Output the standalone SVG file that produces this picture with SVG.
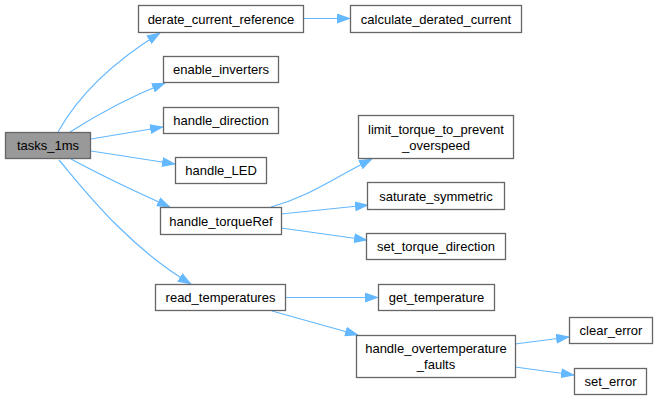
<svg xmlns="http://www.w3.org/2000/svg" width="657" height="400" viewBox="0 0 657 400">
<style>
.node rect{fill:#ffffff;stroke:#666666;stroke-width:1.3}
.node.root rect{fill:#999999}
.node text{font-family:"Liberation Sans",Arial,sans-serif;font-size:13px;fill:#000000;text-anchor:middle}
.edge{fill:none;stroke:#63b8ff;stroke-width:1.2;marker-end:url(#arrow)}
</style>
<defs>
<marker id="arrow" viewBox="0 0 14 10" markerWidth="14" markerHeight="10" refX="13" refY="5" orient="auto" markerUnits="userSpaceOnUse">
<path d="M0,0 L14,5 L0,10 z" fill="#63b8ff"/>
</marker>
</defs>
<rect width="657" height="400" fill="#ffffff"/>
<g id="connectors">
<path class="edge" d="M58,132 C73,105 100,70 160,33"/>
<path class="edge" d="M70,132 C92,118 122,100 165,83"/>
<path class="edge" d="M91,139 L163,127"/>
<path class="edge" d="M91,151 L175,164"/>
<path class="edge" d="M71,159 C95,172 125,187 170,207"/>
<path class="edge" d="M59,160 C78,182 125,245 191,284"/>
<path class="edge" d="M303,18.5 L350,18.5"/>
<path class="edge" d="M271,207 C310,196 330,180 372,159"/>
<path class="edge" d="M281,214 L368,205"/>
<path class="edge" d="M281,228 L367,240"/>
<path class="edge" d="M286,297.5 L378,297.5"/>
<path class="edge" d="M272,311 L358,335"/>
<path class="edge" d="M515,344 L569,337"/>
<path class="edge" d="M515,367 L574,375"/>
</g>
<g id="tasks_1ms" class="node root"><rect x="5.5" y="132.5" width="85" height="26"/><text x="48" y="150">tasks_1ms</text></g>
<g id="derate_current_reference" class="node"><rect x="138.5" y="5.5" width="165" height="27"/><text x="221" y="23.5">derate_current_reference</text></g>
<g id="calculate_derated_current" class="node"><rect x="350.5" y="5.5" width="171" height="27"/><text x="436" y="23.5">calculate_derated_current</text></g>
<g id="enable_inverters" class="node"><rect x="163.5" y="56.5" width="115" height="26"/><text x="221" y="74">enable_inverters</text></g>
<g id="handle_direction" class="node"><rect x="163.5" y="107.5" width="115" height="26"/><text x="221" y="125">handle_direction</text></g>
<g id="handle_LED" class="node"><rect x="175.5" y="157.5" width="91" height="26"/><text x="221" y="175">handle_LED</text></g>
<g id="handle_torqueRef" class="node"><rect x="160.5" y="207.5" width="121" height="27"/><text x="221" y="225.5">handle_torqueRef</text></g>
<g id="read_temperatures" class="node"><rect x="155.5" y="284.5" width="130" height="26"/><text x="220.5" y="302">read_temperatures</text></g>
<g id="limit_torque_to_prevent_overspeed" class="node"><rect x="358.5" y="115.5" width="155" height="43"/><text x="436" y="134">limit_torque_to_prevent</text><text x="436" y="150">_overspeed</text></g>
<g id="saturate_symmetric" class="node"><rect x="367.5" y="182.5" width="137" height="27"/><text x="436" y="200.5">saturate_symmetric</text></g>
<g id="set_torque_direction" class="node"><rect x="366.5" y="233.5" width="139" height="26"/><text x="436" y="251">set_torque_direction</text></g>
<g id="get_temperature" class="node"><rect x="378.5" y="284.5" width="116" height="26"/><text x="436.5" y="302">get_temperature</text></g>
<g id="handle_overtemperature_faults" class="node"><rect x="356.5" y="335.5" width="159" height="42"/><text x="436" y="353">handle_overtemperature</text><text x="436" y="369">_faults</text></g>
<g id="clear_error" class="node"><rect x="569.5" y="317.5" width="83" height="26"/><text x="611" y="335">clear_error</text></g>
<g id="set_error" class="node"><rect x="574.5" y="368.5" width="72" height="26"/><text x="610.5" y="386">set_error</text></g>
</svg>
